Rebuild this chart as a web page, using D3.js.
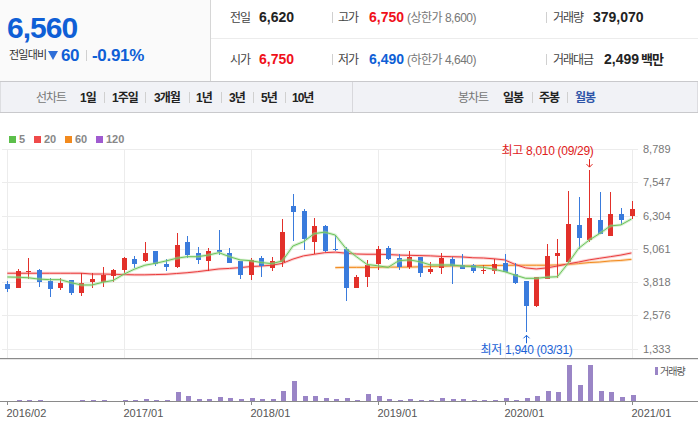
<!DOCTYPE html>
<html>
<head>
<meta charset="utf-8">
<script src="https://cdn.jsdelivr.net/npm/d3@7"></script>
<style>
body { margin: 0; background: #fff; }
svg text { font-family: "Liberation Sans", "Noto Sans CJK KR", Arial, sans-serif; }
</style>
</head>
<body>
<svg id="chart" width="698" height="432"></svg>
<script>
// monthly candles, 2016/02 .. 2021/01
var months = ["2016/02","2016/03","2016/04","2016/05","2016/06","2016/07","2016/08","2016/09","2016/10","2016/11","2016/12",
  "2017/01","2017/02","2017/03","2017/04","2017/05","2017/06","2017/07","2017/08","2017/09","2017/10","2017/11","2017/12",
  "2018/01","2018/02","2018/03","2018/04","2018/05","2018/06","2018/07","2018/08","2018/09","2018/10","2018/11","2018/12",
  "2019/01","2019/02","2019/03","2019/04","2019/05","2019/06","2019/07","2019/08","2019/09","2019/10","2019/11","2019/12",
  "2020/01","2020/02","2020/03","2020/04","2020/05","2020/06","2020/07","2020/08","2020/09","2020/10","2020/11","2020/12",
  "2021/01"];

var open  = [3750,3610,4180,4270,3860,3610,3900,3420,3830,3830,4060,4280,4680,4620,4980,4500,4400,5320,4910,4620,
             5020,4910,4610,4100,4720,4360,4580,6670,6480,5330,5920,5070,5070,3610,4020,4510,5100,4720,4400,4760,
             4210,4360,4680,4460,4460,4250,4250,4530,4120,3860,2940,3930,4800,4570,5960,5390,6140,5560,6370,6290];
var high  = [3860,4300,4720,4310,3960,3960,3900,4160,4150,4380,4310,4760,4800,5320,4980,4680,5660,5540,5130,5100,
             5770,5100,4610,4720,4800,4760,6180,7120,6540,6220,5960,5580,5130,4080,4650,5170,5170,4870,4980,4760,
             4570,4910,4760,4870,4500,4460,4680,4870,4530,3860,4010,5230,5420,7230,6990,8010,7200,7200,6600,6850];
var low   = [3440,3610,3920,3650,3270,3540,3350,3310,3610,3650,3830,4150,4350,4570,4430,4250,4360,4730,4500,4250,
             4850,4550,3950,3910,4020,4250,4400,5370,5030,4870,4950,4980,3120,3610,3650,4270,4660,4280,4320,4020,
             4130,4130,3760,4320,4170,4130,4140,4210,3750,1940,2870,3930,3980,4570,5060,5330,5620,5560,5950,6190];
var close = [3570,4220,4220,3830,3570,3780,3420,3780,3930,4080,4270,4720,4500,4910,4480,4400,5210,4830,4660,4980,
             4950,4550,4100,4650,4430,4610,5690,6460,5440,5920,5000,5030,3610,4010,4460,5060,4700,4400,4760,4170,
             4310,4720,4430,4320,4250,4270,4490,4210,3780,2940,4010,4800,4920,5990,5480,6220,5620,6370,6140,6560];
var volume = [20000,100000,100000,100000,20000,20000,20000,100000,100000,100000,
              20000,100000,100000,200000,100000,100000,900000,500000,200000,200000,
              400000,300000,200000,300000,200000,200000,1000000,2000000,500000,500000,
              300000,200000,300000,100000,700000,500000,200000,100000,200000,100000,
              100000,300000,200000,200000,100000,100000,100000,300000,100000,300000,
              500000,1000000,900000,3600000,1600000,3600000,1000000,900000,400000,600000];

// moving averages
var ma5  = [4010,4000,3980,3930,3910,3910,3800,3710,3710,3810,3880,4110,4300,4450,4520,4610,4710,4770,4770,4830,
            4920,4770,4650,4620,4550,4510,4610,5170,5330,5630,5690,5580,5080,4770,4480,4430,4370,4620,4650,4580,
            4460,4460,4460,4420,4400,4370,4300,4210,4080,3960,3960,4000,4020,4520,5080,5390,5640,5920,5960,6180];
var ma20 = [4150,4150,4150,4150,4150,4150,4150,4150,4120,4120,4110,4100,4090,4090,4100,4110,4140,4170,4210,4260,
            4310,4330,4360,4400,4420,4450,4520,4680,4800,4860,4920,4940,4900,4870,4860,4860,4850,4830,4820,4810,
            4800,4780,4770,4760,4730,4720,4690,4650,4480,4350,4310,4350,4420,4500,4570,4650,4710,4770,4830,4910];
var ma60 = [null,null,null,null,null,null,null,null,null,null,null,null,null,null,null,null,null,null,null,null,
            null,null,null,null,null,null,null,null,null,null,null,4360,4370,4370,4370,4370,4380,4380,4380,4390,
            4400,4410,4420,4420,4430,4440,4440,4445,4450,4450,4450,4450,4460,4480,4510,4550,4570,4610,4630,4670];

var priceTicks = [8789, 7547, 6304, 5061, 3818, 2576, 1333];
var monthTicks = ["2016/02","2017/01","2018/01","2019/01","2020/01","2021/01"];
var legendNames = ["5", "20", "60", "120"];
var legendColors = ["#5cbf4a", "#ef4a4a", "#f28a1e", "#a05bd0"];

var UP = "#e2302a", DOWN = "#3a7bdc";
var svg = d3.select("#chart");

/* ---------- header ---------- */
svg.append("rect").attr("x", 0).attr("y", 0).attr("width", 210).attr("height", 81).attr("fill", "#fafafa");
svg.append("line").attr("x1", 210.5).attr("x2", 210.5).attr("y1", 0).attr("y2", 81).attr("stroke", "#d6d6d6");
svg.append("line").attr("x1", 211).attr("x2", 698).attr("y1", 38.5).attr("y2", 38.5).attr("stroke", "#ececec");

function txt(x, y, s, size, color, weight, ls) {
  return svg.append("text").attr("x", x).attr("y", y).text(s)
    .attr("font-size", size).attr("fill", color)
    .attr("font-weight", weight || "normal")
    .attr("letter-spacing", ls || 0);
}
function sep(x, y1, y2) {
  svg.append("line").attr("x1", x).attr("x2", x).attr("y1", y1).attr("y2", y2).attr("stroke", "#d0d0d0");
}

txt(7, 38, "6,560", 30, "#0f5fd6", "bold", -1);
txt(9, 59, "전일대비", 11, "#333", "normal", -0.8);
svg.append("path").attr("d", "M48,51 L58,51 L53,60 Z").attr("fill", "#2f6fd8");
txt(61, 61, "60", 17, "#0f5fd6", "bold", -0.5);
sep(86.5, 50, 61);
txt(92, 61, "-0.91%", 17, "#0f5fd6", "bold", -0.3);

var rows = [22, 64];
txt(230, rows[0], "전일", 12, "#444", "normal", -1);
txt(259, rows[0], "6,620", 14, "#222", "bold");
sep(332.5, 12, 23);
txt(338, rows[0], "고가", 12, "#444", "normal", -1);
txt(369, rows[0], "6,750", 14, "#f0101a", "bold");
txt(407, rows[0], "(상한가 8,600)", 12, "#777", "normal", -0.5);
sep(546.5, 12, 23);
txt(553, rows[0], "거래량", 12, "#444", "normal", -1);
txt(593, rows[0], "379,070", 14, "#222", "bold");

txt(230, rows[1], "시가", 12, "#444", "normal", -1);
txt(259, rows[1], "6,750", 14, "#f0101a", "bold");
sep(332.5, 54, 65);
txt(338, rows[1], "저가", 12, "#444", "normal", -1);
txt(369, rows[1], "6,490", 14, "#0f5fd6", "bold");
txt(407, rows[1], "(하한가 4,640)", 12, "#777", "normal", -0.5);
sep(546.5, 54, 65);
txt(553, rows[1], "거래대금", 12, "#444", "normal", -1);
txt(604, rows[1], "2,499", 14, "#222", "bold");
txt(641, rows[1], "백만", 13, "#222", "bold", -1);

/* ---------- toolbar ---------- */
svg.append("rect").attr("x", 0).attr("y", 81.5).attr("width", 698).attr("height", 31)
  .attr("fill", "#f1f2f6").attr("stroke", "#c9c9cc");
svg.append("line").attr("x1", 352.5).attr("x2", 352.5).attr("y1", 82).attr("y2", 112).attr("stroke", "#d8d8dc");
var tb = 101.5;
txt(36, tb, "선차트", 12, "#777", "normal", -1);
[["1일", 80], ["1주일", 112], ["3개월", 154], ["1년", 196], ["3년", 229], ["5년", 261], ["10년", 292]]
  .forEach(function(d) { txt(d[1], tb, d[0], 12, "#222", "bold", -1); });
[104.5, 145.5, 189.5, 221.5, 253.5, 285.5, 532.5, 567.5].forEach(function(x) { sep(x, 92, 103); });
txt(458, tb, "봉차트", 12, "#777", "normal", -1);
txt(503, tb, "일봉", 12, "#222", "bold", -1);
txt(539, tb, "주봉", 12, "#222", "bold", -1);
txt(575, tb, "월봉", 12, "#2f55a8", "bold", -1);

/* ---------- scales ---------- */
var x = d3.scalePoint().domain(months).range([7.3, 631.5]);
var y = d3.scaleLinear().domain([1333, 8789]).range([348.5, 149.3]);
var yv = d3.scaleLinear().domain([0, 4300000]).range([401, 358]);

// legend
var lg = svg.append("g");
var lx = [9, 34, 65, 96];
legendNames.forEach(function(n, i) {
  lg.append("rect").attr("x", lx[i]).attr("y", 136).attr("width", 7).attr("height", 7).attr("fill", legendColors[i]);
  lg.append("text").attr("x", lx[i] + 10).attr("y", 143).text(n)
    .attr("font-size", 11).attr("font-weight", "bold").attr("fill", "#888");
});

// grid
var grid = svg.append("g").attr("stroke", "#ececec").attr("shape-rendering", "crispEdges");
priceTicks.forEach(function(t) {
  var yy = Math.round(y(t)) + 0.5;
  grid.append("line").attr("x1", 2).attr("x2", 638).attr("y1", yy).attr("y2", yy);
});
monthTicks.forEach(function(m) {
  var xx = Math.round(x(m)) + 0.5;
  grid.append("line").attr("x1", xx).attr("x2", xx).attr("y1", 149).attr("y2", 358);
});

// price axis labels (right)
svg.append("g").selectAll("text").data(priceTicks).enter().append("text")
  .attr("x", 643).attr("y", function(d) { return y(d) + 4; })
  .text(function(d) { return d3.format(",")(d); })
  .attr("font-size", 11).attr("fill", "#777");

/* ---------- moving averages ---------- */
function maLine(arr, color, halo) {
  var line = d3.line().defined(function(d) { return d != null; })
    .x(function(d, i) { return x(months[i]); }).y(function(d) { return y(d); });
  svg.append("path").attr("d", line(arr)).attr("fill", "none")
    .attr("stroke", halo).attr("stroke-width", 3).attr("stroke-opacity", 0.45);
  svg.append("path").attr("d", line(arr)).attr("fill", "none")
    .attr("stroke", color).attr("stroke-width", 1);
}
maLine(ma60, "#f28a1e", "#f8b870");
maLine(ma20, "#ea3c3c", "#f59a9a");

/* ---------- candles ---------- */
var idx = d3.range(months.length);
var cg = svg.append("g").attr("shape-rendering", "crispEdges");
cg.selectAll("line.wick").data(idx).enter().append("line")
  .attr("x1", function(i) { return Math.round(x(months[i])) + 0.5; })
  .attr("x2", function(i) { return Math.round(x(months[i])) + 0.5; })
  .attr("y1", function(i) { return y(high[i]); })
  .attr("y2", function(i) { return y(low[i]); })
  .attr("stroke", function(i) { return close[i] >= open[i] ? UP : DOWN; });
cg.selectAll("rect.body").data(idx).enter().append("rect")
  .attr("x", function(i) { return Math.round(x(months[i])) - 2; })
  .attr("y", function(i) { return y(Math.max(open[i], close[i])); })
  .attr("width", 5)
  .attr("height", function(i) { return Math.max(1, Math.abs(y(open[i]) - y(close[i]))); })
  .attr("fill", function(i) { return close[i] >= open[i] ? UP : DOWN; });

maLine(ma5, "#6cc35a", "#a6dd98");

/* ---------- high / low marks ---------- */
var hi = months.indexOf("2020/09"), lo = months.indexOf("2020/03");
var hx = Math.round(x(months[hi])) + 0.5, lxp = Math.round(x(months[lo])) + 0.5;
svg.append("text").attr("x", hx + 4).attr("y", 155).attr("text-anchor", "end")
  .text("최고 8,010 (09/29)").attr("font-size", 12).attr("fill", "#e0201a").attr("letter-spacing", -0.3);
svg.append("line").attr("x1", hx).attr("x2", hx).attr("y1", y(high[hi]) - 11).attr("y2", y(high[hi]) - 3).attr("stroke", "#e0201a");
svg.append("path").attr("d", "M" + (hx - 3) + "," + (y(high[hi]) - 6) + " L" + hx + "," + (y(high[hi]) - 3) + " L" + (hx + 3) + "," + (y(high[hi]) - 6))
  .attr("fill", "none").attr("stroke", "#e0201a");
svg.append("text").attr("x", lxp).attr("y", 354).attr("text-anchor", "middle")
  .text("최저 1,940 (03/31)").attr("font-size", 12).attr("fill", "#1a62d6").attr("letter-spacing", -0.3);
svg.append("line").attr("x1", lxp).attr("x2", lxp).attr("y1", y(low[lo]) + 3).attr("y2", y(low[lo]) + 11).attr("stroke", "#1a62d6");
svg.append("path").attr("d", "M" + (lxp - 3) + "," + (y(low[lo]) + 6) + " L" + lxp + "," + (y(low[lo]) + 3) + " L" + (lxp + 3) + "," + (y(low[lo]) + 6))
  .attr("fill", "none").attr("stroke", "#1a62d6");

/* ---------- volume ---------- */
svg.append("line").attr("x1", 0).attr("x2", 698).attr("y1", 358.5).attr("y2", 358.5).attr("stroke", "#8a8a8a");
svg.append("line").attr("x1", 0).attr("x2", 698).attr("y1", 359.5).attr("y2", 359.5).attr("stroke", "#e6e6e6");
svg.append("g").attr("shape-rendering", "crispEdges").selectAll("rect").data(idx).enter().append("rect")
  .attr("x", function(i) { return Math.round(x(months[i])) - 1; })
  .attr("width", 5)
  .attr("y", function(i) { return 401 - Math.round(401 - yv(volume[i])); })
  .attr("height", function(i) { return Math.round(401 - yv(volume[i])); })
  .attr("fill", "#9a85c6");
svg.append("line").attr("x1", 0).attr("x2", 698).attr("y1", 401.5).attr("y2", 401.5).attr("stroke", "#8a8a8a");
svg.append("rect").attr("x", 655).attr("y", 367).attr("width", 3).attr("height", 8).attr("fill", "#9a85c6");
svg.append("text").attr("x", 660).attr("y", 375).text("거래량").attr("font-size", 10).attr("fill", "#555").attr("letter-spacing", -1);

// month axis
var ax = svg.append("g");
monthTicks.forEach(function(m) {
  var xx = Math.round(x(m)) + 0.5;
  ax.append("line").attr("x1", xx).attr("x2", xx).attr("y1", 401).attr("y2", 405).attr("stroke", "#8a8a8a");
  ax.append("text").attr("x", xx - 1).attr("y", 417).text(m).attr("font-size", 11).attr("fill", "#555");
});
</script>
</body>
</html>
